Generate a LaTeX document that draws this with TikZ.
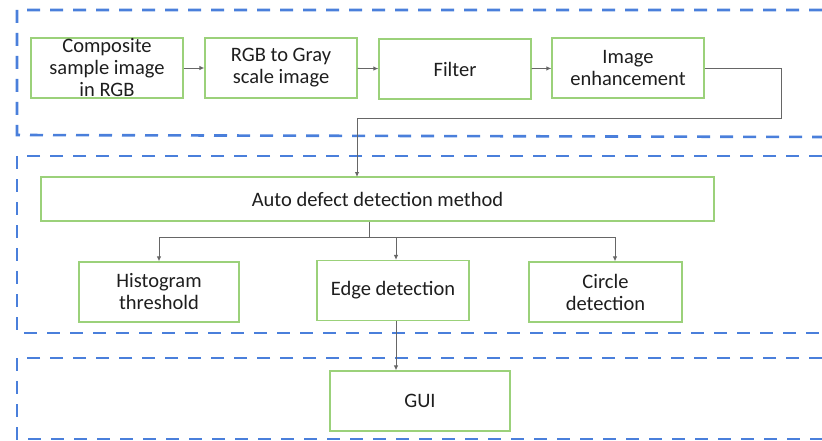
\documentclass[tikz,border=0pt]{standalone}
\usepackage{fontspec}
\setmainfont{Carlito}
\usepackage{xcolor}
\usetikzlibrary{positioning,arrows.meta}
\definecolor{panelblue}{HTML}{4A7FDB}
\definecolor{boxgreen}{HTML}{9BD17A}
\definecolor{textgray}{HTML}{1E1E1E}

\begin{document}
\begin{tikzpicture}[
    x=1pt, y=-1pt,
    >={Latex[length=5pt,width=4.5pt]},
    stage/.style={rectangle, draw=boxgreen, line width=1.3pt, minimum width=152pt, minimum height=60pt,
        align=center, font=\fontsize{20.5}{22}\selectfont, text=textgray, inner sep=1pt},
    panel/.style={draw=panelblue, line width=2.6pt, dash pattern=on 13pt off 10pt},
    link/.style={draw=gray!80!black, line width=0.9pt}
]
\useasboundingbox (0,0) rectangle (822,441);

% Dashed panels
\draw[panel] (822,10) -- (17,10) -- (17,135) -- (822,137);
\draw[panel] (822,156) -- (17,156) -- (17,333) -- (822,333);
\draw[panel] (822,358) -- (17,358) -- (17,439) -- (822,439);

% Preprocessing
\node[stage] (comp) at (107,68) {Composite\\sample image\\in RGB};
\node[stage] (gray) at (281,68) {RGB to Gray\\scale image};
\node[stage] (filt) at (455,69) {Filter};
\node[stage] (enh) at (628,68) {Image\\enhancement};
\draw[link,->] (comp) -- (gray);
\draw[link,->] (gray) -- (filt);
\draw[link,->] (filt) -- (enh);

% Detection
\node[stage, minimum width=673pt, minimum height=44pt] (auto) at (377.5,199) {Auto defect detection method};
\coordinate (turn) at (781,118);
\draw[link,->] (enh.east) -| (turn) -- (357,118) -- (357,177);

\node[stage, minimum width=160pt] (hist) at (159,292) {Histogram\\threshold};
\node[stage] (edge) at (393,290.5) {Edge detection};
\node[stage, minimum width=153pt] (circ) at (605.5,292) {Circle\\detection};
\coordinate (fork) at (369,237);
\draw[link] (auto.south -| fork) -- (fork);
\draw[link,->] (fork) -| (hist.north);
\draw[link,->] (fork) -| (edge.north -| 396,0);
\draw[link,->] (fork) -| (circ.north -| 615,0);

% Output
\node[stage, minimum width=180pt] (gui) at (420,401) {GUI};
\draw[link,->] (edge.south -| 396,0) -- (gui.north -| 396,0);
\end{tikzpicture}
\end{document}
